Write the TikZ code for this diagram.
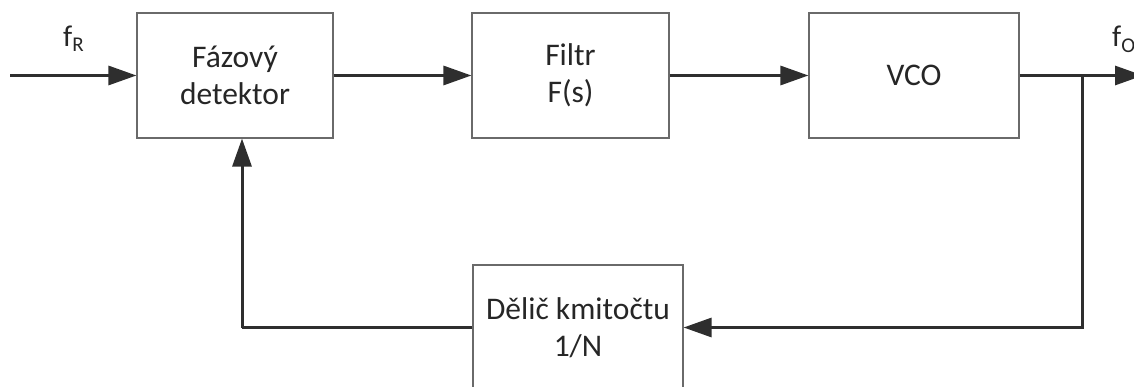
\documentclass[tikz,border=0pt]{standalone}
\usepackage{fontspec}
\setmainfont{Carlito}
\usetikzlibrary{arrows.meta,calc}
\definecolor{ink}{HTML}{262626}
\definecolor{edge}{HTML}{6A6A6A}
\definecolor{wire}{HTML}{2E2E2E}
\tikzset{
  blockbox/.style={draw=edge, line width=1.1pt, minimum height=125pt, inner sep=0pt,
    align=center, font=\fontsize{31.5}{37}\selectfont, text=ink},
  wireline/.style={draw=wire, line width=3pt},
  sig/.style={wireline, -{Triangle[length=28pt,width=19pt]}},
  lbl/.style={font=\fontsize{30}{34}\selectfont, text=ink, inner sep=0pt}
}
\begin{document}
\begin{tikzpicture}[x=1pt,y=-1pt]
  \useasboundingbox (0,0) rectangle (1134,387);
  \clip (0,0) rectangle (1134,387);
  % forward path
  \node[blockbox, minimum width=196pt] (det) at (235,75.5) {Fázový\\detektor};
  \node[blockbox, minimum width=197pt] (flt) at (570.5,75.5) {Filtr\\F(s)};
  \node[blockbox, minimum width=210pt] (vco) at (914,75.5) {VCO};
  % feedback divider
  \node[blockbox, minimum width=210pt] (div) at (578,327.5) {Dělič kmitočtu\\1/N};
  % signal end points
  \coordinate (in) at (10,75.5);
  \coordinate (out) at (1143,75.5);
  \coordinate (tap) at (1082,75.5);
  \coordinate (ret) at (242,327.5);
  % labels
  \node[lbl, anchor=base west] (fr) at (63,47) {f\textsubscript{R}};
  \node[lbl, anchor=base west] (fo) at (1112,47) {f\textsubscript{O}};
  % connectors
  \draw[sig] (in) -- (det.west);
  \draw[sig] (det.east) -- (flt.west);
  \draw[sig] (flt.east) -- (vco.west);
  \draw[sig] (vco.east) -- (out);
  \draw[sig] (tap) |- (div.east);
  \draw[wireline] (div.west) -- (ret);
  \draw[sig] (ret) -- (ret |- det.south);
\end{tikzpicture}
\end{document}
